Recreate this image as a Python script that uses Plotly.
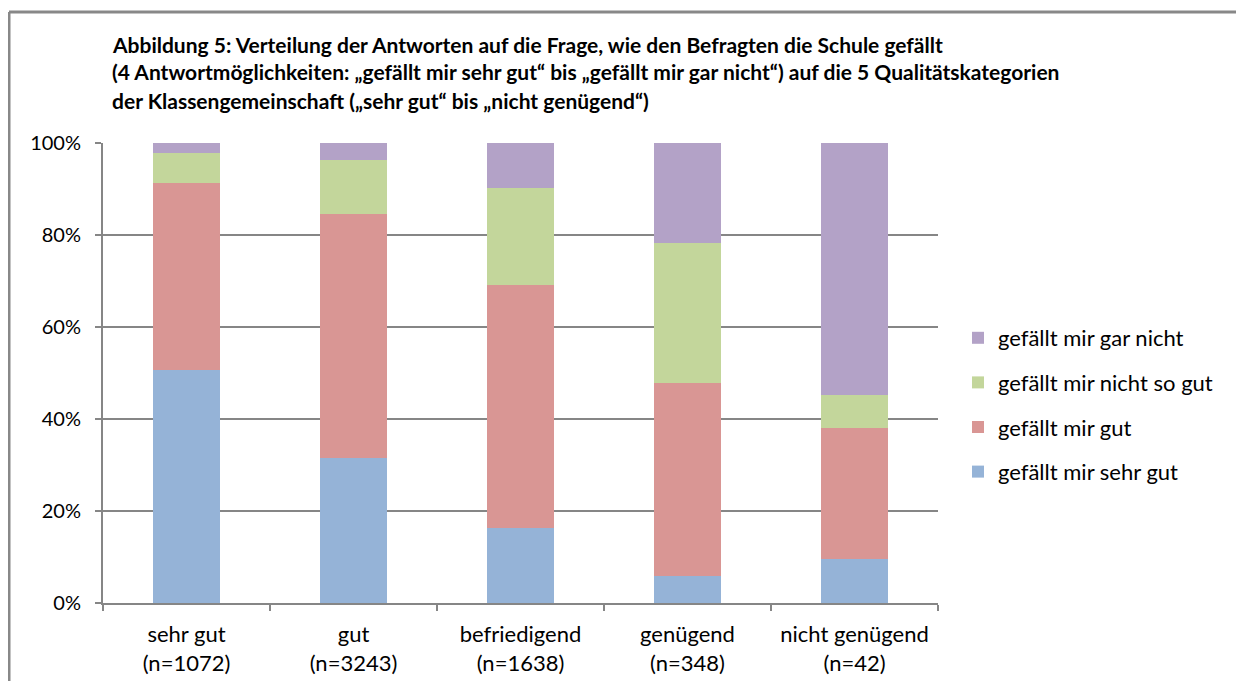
import plotly.graph_objects as go

categories = ["sehr gut<br>(n=1072)", "gut<br>(n=3243)", "befriedigend<br>(n=1638)",
              "genügend<br>(n=348)", "nicht genügend<br>(n=42)"]
sehr_gut = [50.7, 31.5, 16.3, 5.9, 9.5]
gut = [40.6, 53.1, 52.8, 41.9, 28.6]
nicht_so_gut = [6.5, 11.7, 21.1, 30.5, 7.1]
gar_nicht = [2.2, 3.7, 9.8, 21.7, 54.8]

series = [
    ("gefällt mir sehr gut", sehr_gut, "#95B3D7", 4),
    ("gefällt mir gut", gut, "#D99694", 3),
    ("gefällt mir nicht so gut", nicht_so_gut, "#C3D69B", 2),
    ("gefällt mir gar nicht", gar_nicht, "#B3A2C7", 1),
]

FONT = "Lato"
OFF = 8  # page body margin
W, H = 1244 - 2 * OFF, 689 - 2 * OFF
# plot area in screen coordinates
SL, SR, ST, SB = 103, 938, 143, 603
ml, mr, mt, mb = SL - OFF, W - (SR - OFF), ST - OFF, H - (SB - OFF)
pw, ph = W - ml - mr, H - mt - mb


def px(xs):
    return (xs - OFF - ml) / pw


def py(ys):
    return (H - mb - (ys - OFF)) / ph


fig = go.Figure()
for name, vals, col, rank in series:
    fig.add_trace(go.Bar(
        x=categories, y=vals, name=name, legendgroup=name, legendrank=rank,
        marker=dict(color=col, line=dict(width=0)),
    ))

title_lines = [
    "Abbildung 5: Verteilung der Antworten auf die Frage, wie den Befragten die Schule gefällt",
    "(4 Antwortmöglichkeiten: „gefällt mir sehr gut“ bis „gefällt mir gar nicht“) auf die 5 Qualitätskategorien",
    "der Klassengemeinschaft („sehr gut“ bis „nicht genügend“)",
]
annotations = []
for k, line in enumerate(title_lines):
    annotations.append(dict(
        text="<b>" + line + "</b>", xref="paper", yref="paper",
        x=px(110), y=py(44 + 28 * k), xanchor="left", yanchor="middle",
        showarrow=False, font=dict(family=FONT, size=21, color="#000000"),
    ))

shapes = [
    dict(type="line", xref="paper", yref="paper", x0=px(9), x1=px(1250), y0=py(12), y1=py(12),
         line=dict(color="#888888", width=3)),
    dict(type="line", xref="paper", yref="paper", x0=px(9), x1=px(9), y0=py(12), y1=py(700),
         line=dict(color="#888888", width=3)),
]

fig.update_layout(
    width=W, height=H,
    margin=dict(l=ml, r=mr, t=mt, b=mb, autoexpand=False),
    paper_bgcolor="white", plot_bgcolor="white",
    barmode="stack", bargap=0.6,
    font=dict(family=FONT, size=22, color="#000000"),
    xaxis=dict(
        showline=True, linecolor="#868686", linewidth=2,
        ticks="outside", tickson="boundaries", ticklen=6, tickcolor="#868686", tickwidth=2,
        showgrid=False, tickfont=dict(family=FONT, size=22), ticklabelstandoff=11,
    ),
    yaxis=dict(
        range=[0, 100], tickvals=[0, 20, 40, 60, 80, 100],
        ticktext=["0%", "20%", "40%", "60%", "80%", "100%"],
        showgrid=True, gridcolor="#868686", gridwidth=2,
        showline=True, linecolor="#868686", linewidth=2,
        ticks="outside", ticklen=6, tickcolor="#868686", tickwidth=2,
        zeroline=False, tickfont=dict(family=FONT, size=20), ticklabelstandoff=10,
    ),
    legend=dict(
        x=px(958), y=py(405), xanchor="left", yanchor="middle",
        traceorder="grouped", tracegroupgap=13,
        font=dict(family=FONT, size=22), itemwidth=30,
        bgcolor="rgba(0,0,0,0)",
    ),
    annotations=annotations,
    shapes=shapes,
)

fig.write_html("out.html")
